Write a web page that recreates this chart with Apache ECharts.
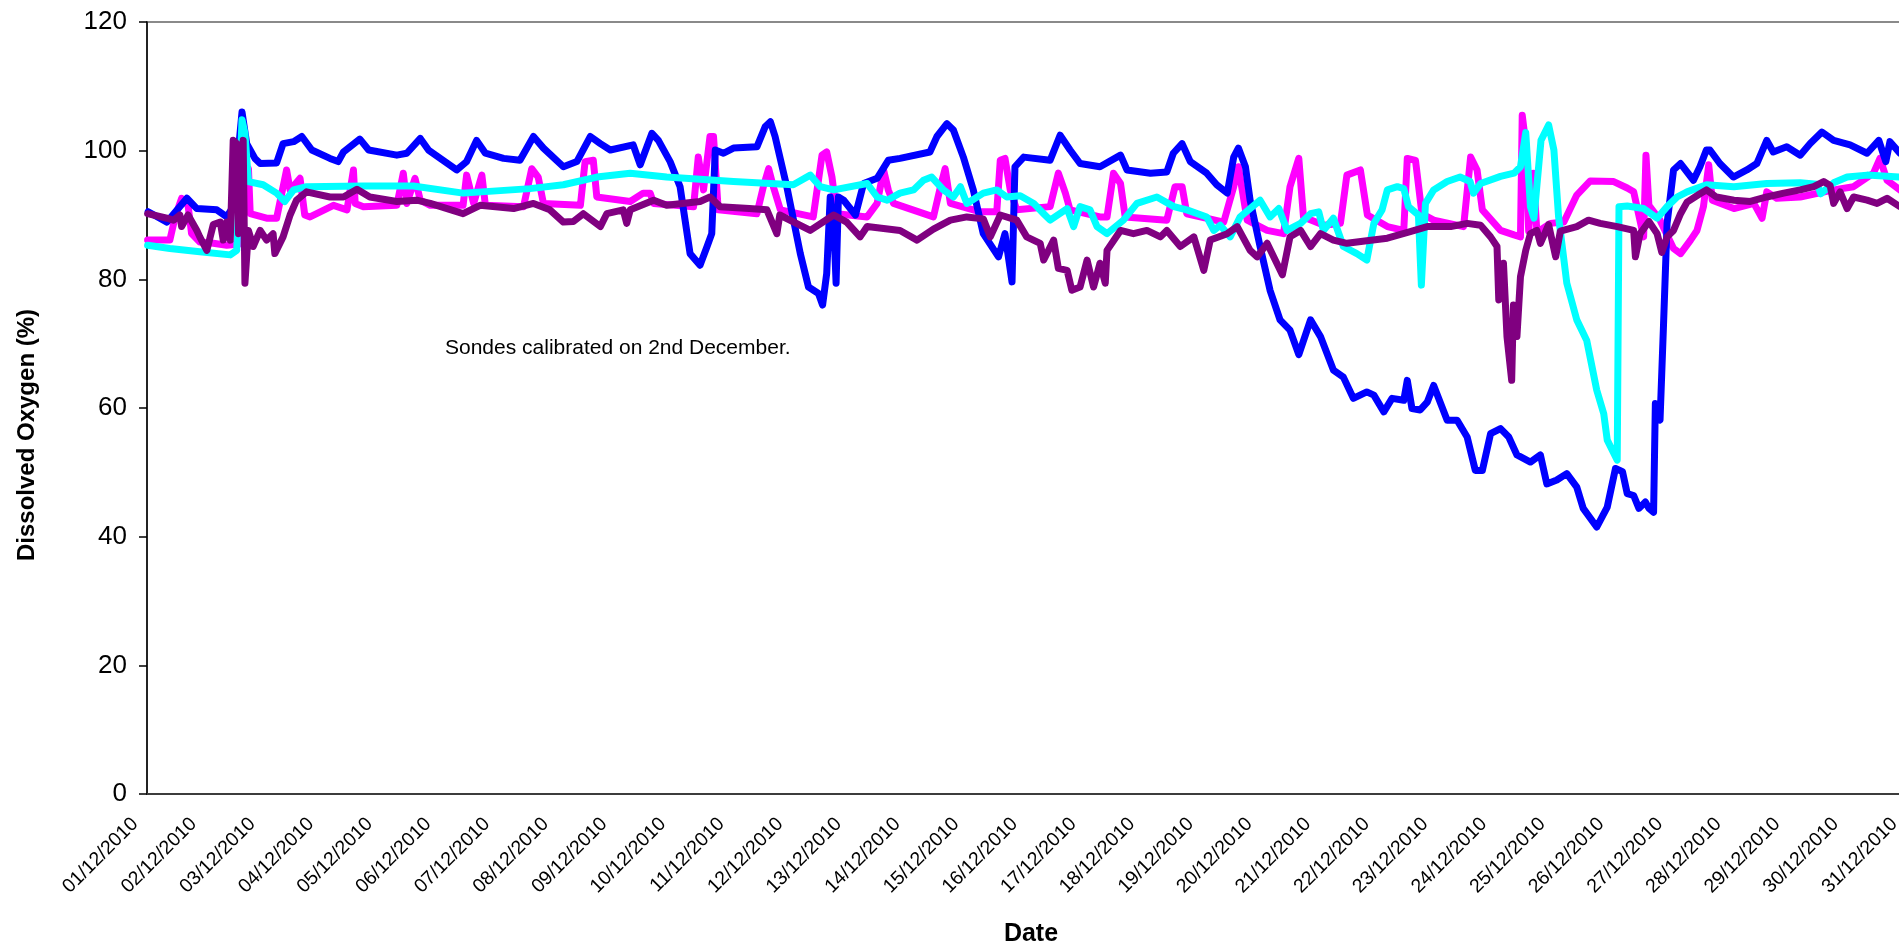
<!DOCTYPE html>
<html>
<head>
<meta charset="utf-8">
<title>Dissolved Oxygen - December 2010</title>
<script src="https://cdn.jsdelivr.net/npm/echarts@6.0.0/dist/echarts.min.js"></script>
<style>
  html, body { margin: 0; padding: 0; background: #ffffff; }
  #chart { width: 1899px; height: 949px; }
</style>
</head>
<body>
<div id="chart"></div>
<script>
// Day tick labels (tick n = n days after 01/12/2010 00:00)
const dateLabels = [
  '01/12/2010','02/12/2010','03/12/2010','04/12/2010','05/12/2010','06/12/2010',
  '07/12/2010','08/12/2010','09/12/2010','10/12/2010','11/12/2010','12/12/2010',
  '13/12/2010','14/12/2010','15/12/2010','16/12/2010','17/12/2010','18/12/2010',
  '19/12/2010','20/12/2010','21/12/2010','22/12/2010','23/12/2010','24/12/2010',
  '25/12/2010','26/12/2010','27/12/2010','28/12/2010','29/12/2010','30/12/2010',
  '31/12/2010'
];

// Sonde readings: time in days since 01/12/2010 00:00, dissolved oxygen in %
const blueDays = [0.02,0.34,0.68,0.85,1.19,1.36,1.47,1.62,1.70,1.84,1.93,2.21,2.32,2.50,2.64,2.81,3.12,3.26,3.35,3.63,3.78,4.26,4.43,4.66,4.80,5.28,5.45,5.62,5.77,6.08,6.36,6.59,6.76,7.10,7.33,7.56,7.73,7.90,8.29,8.41,8.61,8.72,8.92,9.09,9.26,9.43,9.55,9.63,9.69,9.83,10.00,10.40,10.54,10.63,10.71,10.91,11.14,11.28,11.45,11.52,11.59,11.65,11.71,11.75,11.79,11.88,12.08,12.22,12.45,12.64,12.84,13.35,13.47,13.64,13.75,13.92,14.09,14.26,14.52,14.63,14.75,14.80,14.95,15.40,15.57,15.74,15.91,16.25,16.60,16.71,17.11,17.39,17.50,17.65,17.79,18.07,18.24,18.42,18.53,18.61,18.73,18.81,18.98,19.15,19.32,19.49,19.64,19.84,20.01,20.23,20.40,20.57,20.80,20.92,21.09,21.23,21.43,21.49,21.57,21.71,21.83,21.94,22.17,22.34,22.51,22.65,22.77,22.91,23.08,23.22,23.36,23.59,23.76,23.87,24.04,24.21,24.38,24.49,24.72,24.90,25.04,25.16,25.24,25.35,25.44,25.55,25.61,25.69,25.72,25.80,25.86,25.92,26.03,26.15,26.37,26.48,26.59,26.65,26.82,27.05,27.28,27.45,27.62,27.73,27.96,28.19,28.36,28.56,28.76,29.04,29.33,29.53,29.65,29.72,29.89];
const blueDO = [90.5,88.9,92.6,91.0,90.8,89.7,91.3,106.0,101.1,98.8,98.0,98.1,101.1,101.4,102.2,100.1,98.8,98.3,99.8,101.8,100.1,99.3,99.6,101.9,100.1,97.0,98.3,101.6,99.6,98.8,98.5,102.2,100.4,97.5,98.3,102.2,101.1,100.1,100.9,97.8,102.7,101.6,98.3,94.4,84.0,82.2,85.1,87.1,100.1,99.6,100.4,100.6,103.7,104.5,102.2,94.4,84.0,78.8,77.8,76.0,80.9,92.8,88.7,79.4,92.8,92.3,90.0,94.9,95.7,98.5,98.8,99.8,102.2,104.2,103.2,99.0,93.9,87.1,83.5,87.1,79.6,97.5,99.0,98.5,102.4,100.1,98.0,97.5,99.3,97.0,96.5,96.7,99.6,101.1,98.3,96.5,94.7,93.4,99.0,100.4,97.5,92.3,85.1,78.3,73.7,72.1,68.3,73.7,71.1,65.9,64.8,61.5,62.5,62.0,59.4,61.5,61.2,64.3,59.9,59.7,60.9,63.5,58.1,58.1,55.5,50.3,50.3,56.0,56.8,55.5,52.7,51.6,52.7,48.2,48.8,49.8,47.7,44.4,41.5,44.6,50.6,50.1,46.7,46.4,44.4,45.4,44.4,43.8,60.7,58.1,73.1,88.7,97.0,98.0,95.4,97.5,100.1,100.1,98.0,95.9,97.0,98.0,101.6,99.8,100.6,99.3,101.1,102.9,101.6,100.9,99.6,101.6,98.3,101.4,99.6];

const magentaDays = [0.01,0.39,0.48,0.59,0.70,0.76,0.90,1.13,1.36,1.58,1.62,1.73,1.76,2.04,2.21,2.38,2.44,2.61,2.69,2.78,3.18,3.41,3.52,3.55,3.69,4.26,4.37,4.43,4.57,4.66,4.83,5.39,5.45,5.57,5.71,5.77,6.42,6.56,6.67,6.76,7.39,7.47,7.61,7.67,8.24,8.46,8.58,8.64,9.32,9.40,9.49,9.60,9.66,9.74,10.40,10.51,10.60,10.68,10.80,11.36,11.51,11.59,11.68,11.76,12.28,12.45,12.56,12.64,12.73,13.41,13.53,13.61,13.70,14.21,14.49,14.55,14.63,14.72,14.83,15.40,15.54,15.66,15.74,16.25,16.37,16.48,16.60,16.68,17.39,17.53,17.65,17.73,18.36,18.53,18.61,18.76,19.10,19.38,19.49,19.64,19.72,20.07,20.35,20.46,20.69,20.81,21.15,21.43,21.49,21.63,21.74,21.94,22.45,22.57,22.68,22.77,23.08,23.31,23.42,23.45,23.51,23.56,23.64,23.70,23.93,24.16,24.38,24.61,25.01,25.24,25.35,25.52,25.56,25.61,25.80,26.03,26.15,26.32,26.43,26.54,26.63,26.69,27.06,27.40,27.54,27.62,27.79,28.19,28.76,29.10,29.44,29.55,29.67,29.89];
const magentaDO = [86.1,86.1,89.7,92.6,91.5,87.1,85.8,85.6,85.3,85.5,97.5,97.2,90.2,89.5,89.5,97.0,93.9,95.7,90.0,89.7,91.5,90.8,97.0,91.8,91.3,91.5,96.5,91.8,95.7,92.3,91.5,91.5,96.2,91.8,96.2,91.5,91.3,97.2,95.9,91.8,91.5,98.3,98.5,92.8,92.1,93.4,93.4,91.8,91.3,99.0,93.9,102.2,102.2,90.8,90.2,94.4,97.2,94.4,90.8,89.7,99.3,99.8,95.9,90.2,89.7,91.8,97.0,93.9,91.8,89.7,94.4,97.2,91.8,90.5,90.5,98.5,98.8,93.9,90.8,91.3,96.5,93.4,90.8,89.7,89.7,96.5,94.9,89.7,89.2,94.4,94.4,90.2,88.9,94.4,97.5,89.2,87.6,87.1,94.4,98.8,89.7,88.4,88.7,96.2,97.0,90.0,88.2,87.6,98.8,98.5,90.2,89.2,88.2,99.0,97.0,90.8,87.6,86.9,86.6,105.5,101.1,87.5,96.5,87.3,88.7,88.9,93.1,95.3,95.2,94.2,93.6,86.6,99.3,91.5,89.2,84.8,84.0,86.1,87.6,91.3,97.8,92.3,91.0,91.8,89.5,93.6,92.6,92.8,93.9,94.4,96.5,98.8,95.4,93.9];

const cyanDays = [0.01,0.39,0.90,1.42,1.53,1.62,1.67,1.73,1.98,2.21,2.35,2.50,2.72,3.69,4.54,5.39,6.53,7.10,7.67,8.24,8.86,10.00,11.02,11.31,11.48,11.71,12.28,12.45,12.62,12.84,13.07,13.24,13.38,13.58,13.75,13.87,13.98,14.26,14.49,14.66,14.89,15.12,15.29,15.40,15.69,15.80,15.91,16.08,16.20,16.37,16.65,16.88,17.22,17.51,17.73,18.07,18.19,18.30,18.47,18.64,18.98,19.15,19.30,19.44,19.67,19.84,19.98,20.06,20.23,20.40,20.63,20.80,20.92,21.06,21.15,21.32,21.43,21.51,21.68,21.73,21.80,21.94,22.17,22.39,22.56,22.62,22.74,23.08,23.31,23.42,23.51,23.59,23.65,23.77,23.90,23.99,24.07,24.21,24.38,24.55,24.72,24.84,24.90,25.07,25.10,25.24,25.52,25.75,25.92,26.09,26.26,26.59,27.06,27.62,28.19,28.48,28.54,28.76,28.99,29.33,29.89];
const cyanDO = [85.3,84.8,84.3,83.8,84.5,104.8,102.7,95.2,94.7,93.4,92.1,93.9,94.4,94.5,94.5,93.4,94.1,94.7,95.9,96.5,95.9,95.2,94.7,96.2,94.4,93.9,94.9,92.8,92.3,93.4,93.9,95.4,95.9,93.9,92.8,94.4,91.8,93.4,93.9,92.8,93.0,91.8,90.2,89.2,91.0,88.2,91.3,90.8,88.2,87.1,89.2,91.8,92.8,91.3,90.8,89.7,87.6,88.4,86.6,89.7,92.3,89.7,91.0,87.6,88.7,90.2,90.5,87.6,89.5,85.1,84.0,83.0,88.7,90.8,93.9,94.4,94.1,91.3,90.0,79.1,91.8,93.9,95.2,95.9,95.2,93.4,94.9,96.0,96.5,97.5,102.8,91.3,89.5,101.6,104.0,100.1,89.7,79.4,73.7,70.5,62.8,59.1,55.0,51.9,91.3,91.4,91.0,89.5,91.3,92.8,93.6,94.7,94.4,94.9,95.0,94.8,93.3,95.0,95.9,96.2,95.9];

const purpleDays = [0.01,0.34,0.45,0.56,0.59,0.70,0.85,0.90,1.02,1.13,1.25,1.30,1.36,1.42,1.47,1.53,1.56,1.64,1.67,1.73,1.81,1.93,2.04,2.15,2.18,2.32,2.44,2.55,2.72,3.12,3.35,3.58,3.80,4.26,4.60,4.83,5.39,5.68,6.25,6.59,6.87,7.10,7.27,7.44,7.73,7.84,8.12,8.18,8.24,8.64,8.86,9.43,9.60,9.77,10.27,10.57,10.74,10.79,11.14,11.31,11.71,11.93,12.16,12.28,12.84,13.13,13.41,13.70,13.98,14.26,14.38,14.55,14.83,15.00,15.23,15.29,15.46,15.54,15.69,15.77,15.91,16.03,16.14,16.25,16.34,16.37,16.60,16.82,17.05,17.28,17.39,17.62,17.85,18.02,18.13,18.42,18.59,18.81,18.93,19.10,19.36,19.49,19.67,19.84,20.01,20.23,20.46,20.80,21.15,21.54,21.83,22.23,22.51,22.74,22.91,23.02,23.05,23.13,23.19,23.27,23.30,23.36,23.42,23.51,23.59,23.70,23.76,23.90,24.02,24.10,24.38,24.58,24.78,25.07,25.35,25.38,25.46,25.61,25.75,25.83,25.92,26.03,26.15,26.26,26.48,26.59,26.76,27.06,27.34,27.62,27.91,28.19,28.42,28.59,28.70,28.76,28.87,28.99,29.10,29.33,29.50,29.67,29.89];
const purpleDO = [90.2,89.5,89.2,90.0,88.2,90.0,87.6,86.6,84.5,88.5,88.9,86.1,88.9,86.1,101.6,101.1,87.1,101.6,79.4,87.6,85.1,87.6,86.1,87.1,84.0,86.6,90.0,92.3,93.6,92.8,92.8,94.0,92.8,92.1,92.3,91.8,90.2,91.5,91.0,91.8,90.8,88.9,89.0,90.2,88.2,90.2,90.8,88.7,90.8,92.3,91.5,92.1,92.8,91.3,91.0,90.8,87.1,90.0,88.4,87.6,90.0,88.9,86.6,88.2,87.6,86.1,87.8,89.2,89.7,89.4,86.6,90.0,89.2,86.6,85.6,83.0,86.1,81.7,81.4,78.3,78.8,83.0,78.8,82.5,79.4,84.5,87.6,87.1,87.6,86.6,87.6,85.1,86.6,81.4,86.1,87.1,88.2,84.5,83.5,85.6,80.7,86.6,87.6,85.1,87.1,86.1,85.6,86.0,86.4,87.4,88.2,88.2,88.7,88.4,86.6,85.1,76.8,82.5,71.1,64.3,76.0,71.1,80.4,84.5,87.1,87.6,85.6,88.5,83.5,87.5,88.2,89.2,88.7,88.2,87.6,83.5,87.1,89.0,87.1,84.2,86.6,87.6,90.2,92.0,93.3,93.9,92.8,92.3,92.1,92.8,93.4,93.9,94.4,95.2,94.6,91.8,93.6,91.0,92.8,92.3,91.8,92.6,91.3];

const yTickValues = [0, 20, 40, 60, 80, 100, 120];

function pairs(days, values) {
  return days.map((d, i) => [d, values[i]]);
}

const FONT = '"Liberation Sans", Arial, sans-serif';

function sondeSeries(name, color, days, values) {
  return {
    name: name,
    type: 'line',
    xAxisIndex: 0,
    yAxisIndex: 0,
    data: pairs(days, values),
    showSymbol: false,
    symbol: 'none',
    silent: true,
    lineStyle: { color: color, width: 7, cap: 'round', join: 'round' },
    itemStyle: { color: color }
  };
}

const chart = echarts.init(document.getElementById('chart'), null, { renderer: 'canvas' });

// The plot area runs one day past 31/12, beyond the right edge of the page.
// A second, label-only grid sits a few pixels to the left so each date ends just before its day mark.
const PLOT = { top: 22, width: 1818, height: 772 };

chart.setOption({
  animation: false,
  backgroundColor: '#ffffff',
  grid: [
    {
      left: 147, top: PLOT.top, width: PLOT.width, height: PLOT.height,
      containLabel: false,
      outerBoundsMode: 'none',
      show: true,
      borderColor: '#8a8a8a',
      borderWidth: 2,
      backgroundColor: '#ffffff'
    },
    {
      left: 135, top: PLOT.top, width: PLOT.width, height: PLOT.height,
      containLabel: false,
      outerBoundsMode: 'none',
      show: false
    }
  ],
  xAxis: [
    {
      gridIndex: 0,
      type: 'value',
      min: 0,
      max: 31,
      interval: 1,
      axisLine: { show: true, lineStyle: { color: '#3c3c3c', width: 2 } },
      axisTick: { show: false },
      splitLine: { show: false },
      axisLabel: { show: false }
    },
    {
      gridIndex: 1,
      type: 'value',
      min: 0,
      max: 31,
      interval: 1,
      axisLine: { show: false },
      axisTick: { show: false },
      splitLine: { show: false },
      axisLabel: {
        rotate: 45,
        margin: 27,
        fontSize: 19.5,
        fontFamily: FONT,
        color: '#000000',
        formatter: function (v) { return dateLabels[v] || ''; }
      }
    }
  ],
  yAxis: [
    {
      gridIndex: 0,
      type: 'value',
      min: yTickValues[0],
      max: yTickValues[yTickValues.length - 1],
      interval: 20,
      axisLine: { show: true, lineStyle: { color: '#000000', width: 1.5 } },
      axisTick: { show: true, length: 8, lineStyle: { color: '#000000', width: 1.5 } },
      splitLine: { show: false },
      axisLabel: {
        margin: 20,
        fontSize: 26,
        fontFamily: FONT,
        color: '#000000'
      }
    },
    {
      gridIndex: 1,
      type: 'value',
      min: 0,
      max: 120,
      show: false
    }
  ],
  graphic: [
    {
      type: 'text',
      style: {
        text: 'Sondes calibrated on 2nd December.',
        x: 445, y: 348,
        font: '21px ' + FONT,
        fill: '#000000',
        align: 'left',
        verticalAlign: 'middle'
      }
    },
    {
      type: 'text',
      x: 27, y: 435,
      rotation: Math.PI / 2,
      style: {
        text: 'Dissolved Oxygen (%)',
        x: 0, y: 0,
        font: 'bold 24px ' + FONT,
        fill: '#000000',
        align: 'center',
        verticalAlign: 'middle'
      }
    },
    {
      type: 'text',
      style: {
        text: 'Date',
        x: 1031, y: 934,
        font: 'bold 25px ' + FONT,
        fill: '#000000',
        align: 'center',
        verticalAlign: 'middle'
      }
    }
  ],
  series: [
    sondeSeries('Sonde 2', '#ff00ff', magentaDays, magentaDO),
    sondeSeries('Sonde 1', '#0000ff', blueDays, blueDO),
    sondeSeries('Sonde 3', '#00ffff', cyanDays, cyanDO),
    sondeSeries('Sonde 4', '#800080', purpleDays, purpleDO)
  ]
});
</script>
</body>
</html>
